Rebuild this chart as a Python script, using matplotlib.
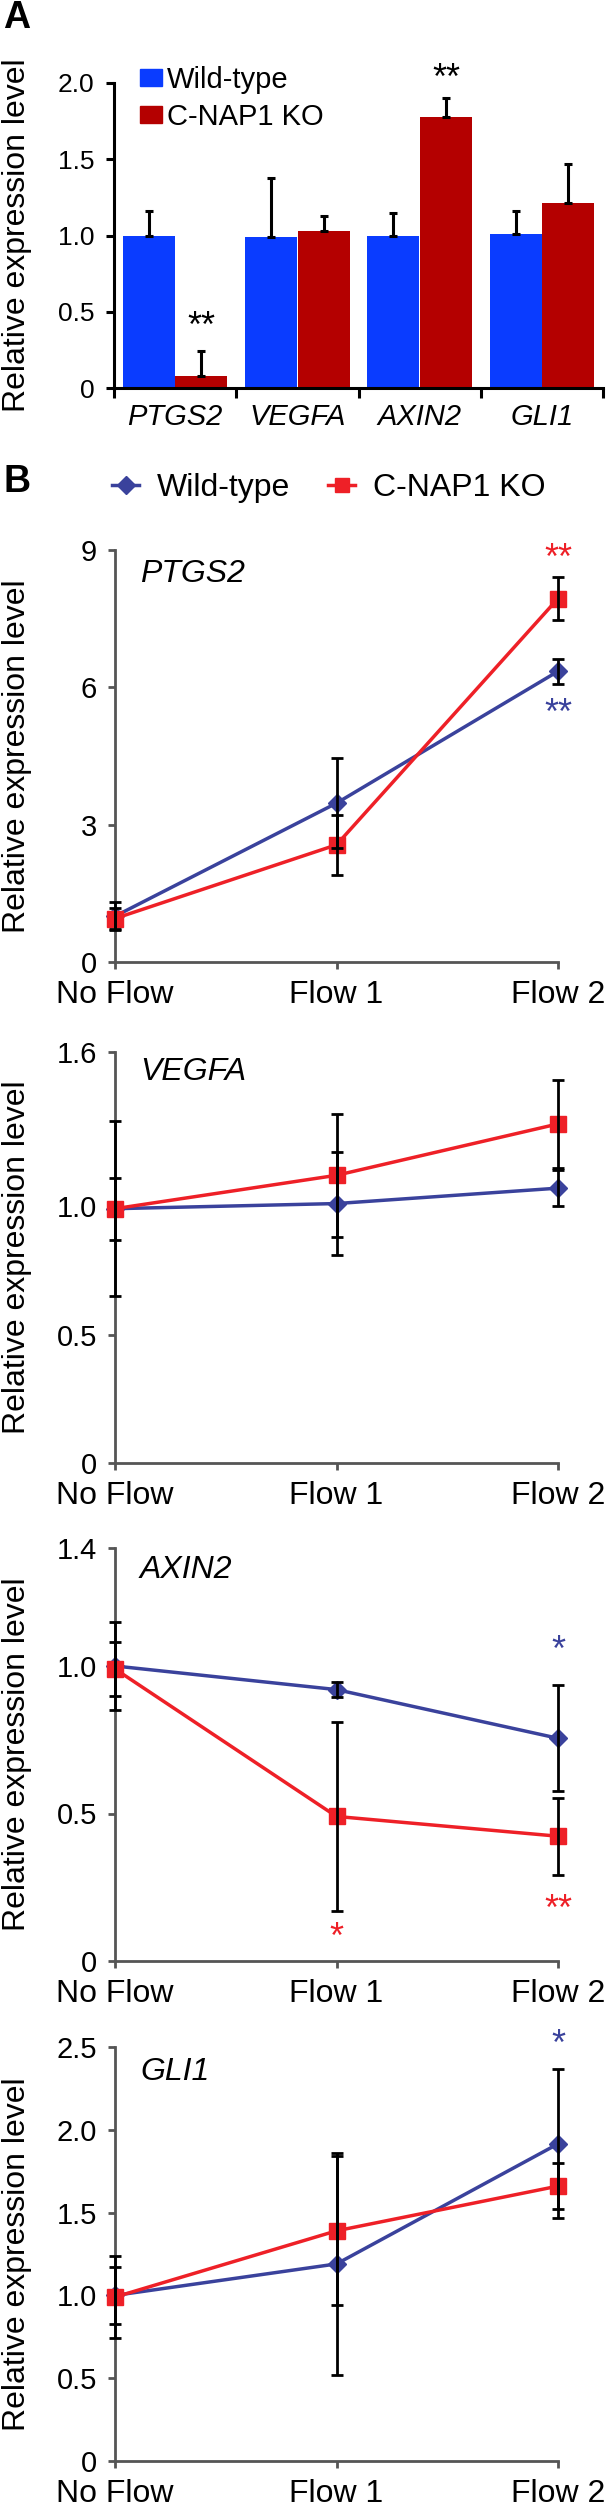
import matplotlib
matplotlib.use("Agg")
import matplotlib.pyplot as plt
from matplotlib.lines import Line2D
from matplotlib.patches import Patch
import matplotlib.transforms as mtransforms

plt.rcParams['font.family'] = ['Liberation Sans', 'DejaVu Sans']

W, H = 615, 2506
DPI = 100

# ---------------- data ----------------
genes = ["PTGS2", "VEGFA", "AXIN2", "GLI1"]
wt_bar = [1.00, 0.99, 1.00, 1.01]
wt_bar_err = [0.16, 0.39, 0.15, 0.15]
ko_bar = [0.08, 1.03, 1.78, 1.21]
ko_bar_err = [0.16, 0.10, 0.12, 0.26]

conditions = ["No Flow", "Flow 1", "Flow 2"]

ptgs2_wt = [1.00, 3.47, 6.35]
ptgs2_wt_err = [0.30, 0.98, 0.27]
ptgs2_ko = [0.95, 2.56, 7.94]
ptgs2_ko_err = [0.22, 0.65, 0.46]

vegfa_wt = [0.99, 1.01, 1.07]
vegfa_wt_err = [0.34, 0.20, 0.07]
vegfa_ko = [0.99, 1.12, 1.32]
vegfa_ko_err = [0.12, 0.24, 0.17]

axin2_wt = [1.00, 0.92, 0.755]
axin2_wt_err = [0.15, 0.025, 0.18]
axin2_ko = [0.99, 0.49, 0.423]
axin2_ko_err = [0.09, 0.32, 0.13]

gli1_wt = [1.00, 1.19, 1.915]
gli1_wt_err = [0.17, 0.67, 0.45]
gli1_ko = [0.99, 1.39, 1.66]
gli1_ko_err = [0.25, 0.45, 0.14]

BLUE_BAR = '#0a3cff'
RED_BAR = '#b40000'
WT_C = '#3a429c'
KO_C = '#ee2027'
AX_GRAY = '#555555'

fig = plt.figure(figsize=(W / DPI, H / DPI), dpi=DPI)


def rect(x0, x1, ytop, ybot):
    return [x0 / W, 1 - ybot / H, (x1 - x0) / W, (ybot - ytop) / H]


def px(x, y):
    return x / W, 1 - y / H


# ---------------- Panel A ----------------
axA = fig.add_axes(rect(114, 603, 83, 388))
idx = list(range(len(genes)))
bw = 0.425
off = 0.215
axA.bar([i - off for i in idx], wt_bar, width=bw, color=BLUE_BAR, zorder=2)
axA.bar([i + off for i in idx], ko_bar, width=bw, color=RED_BAR, zorder=2)
axA.errorbar([i - off for i in idx], wt_bar, yerr=[[0] * 4, wt_bar_err], fmt='none',
             ecolor='black', elinewidth=2.2, capsize=3, capthick=2.2, zorder=3)
axA.errorbar([i + off for i in idx], ko_bar, yerr=[[0] * 4, ko_bar_err], fmt='none',
             ecolor='black', elinewidth=2.2, capsize=3, capthick=2.2, zorder=3)
axA.set_xlim(-0.5, 3.5)
axA.set_ylim(0, 2.0)
axA.set_yticks([0, 0.5, 1.0, 1.5, 2.0])
axA.set_yticklabels(["0", "0.5", "1.0", "1.5", "2.0"], fontsize=19)
axA.set_xticks(idx)
axA.set_xticklabels(genes, fontsize=21, style='italic')
axA.set_xticks([-0.5, 0.5, 1.5, 2.5, 3.5], minor=True)
axA.tick_params(axis='x', which='major', length=0, pad=11)
axA.tick_params(axis='x', which='minor', length=7, width=2.2, direction='out')
axA.tick_params(axis='y', length=6, width=2.2, direction='out', pad=8)
for s in ['top', 'right']:
    axA.spines[s].set_visible(False)
for s in ['left', 'bottom']:
    axA.spines[s].set_linewidth(2.2)
    axA.spines[s].set_color('black')
axA.text(0 + off, 0.40, "**", ha='center', va='center', fontsize=26)
axA.text(2 + off, 2.02, "**", ha='center', va='center', fontsize=26, clip_on=False)

fig.text(*px(17, 235), "Relative expression level", rotation=90, ha='center', va='center', fontsize=23)
fig.text(*px(3, 18), "A", ha='left', va='center', fontsize=27, fontweight='bold')

legA = fig.legend(handles=[Patch(color=BLUE_BAR, label='Wild-type'),
                           Patch(color=RED_BAR, label='C-NAP1 KO')],
                  loc='upper left', bbox_to_anchor=px(140, 66), frameon=False,
                  fontsize=21, handlelength=0.76, handleheight=0.55, handletextpad=0.15,
                  labelspacing=0.3, borderpad=0, borderaxespad=0)

# ---------------- Panel B ----------------
fig.text(*px(4, 482), "B", ha='left', va='center', fontsize=27, fontweight='bold')
legB = fig.legend(handles=[Line2D([], [], color=WT_C, lw=2.5, marker='D', markersize=9, label='Wild-type'),
                           Line2D([], [], color=KO_C, lw=2.5, marker='s', markersize=10, label='C-NAP1 KO')],
                  loc='center left', bbox_to_anchor=px(112, 488), frameon=False, ncol=2,
                  fontsize=23, handlelength=0.85, handletextpad=0.55, columnspacing=1.2,
                  borderpad=0, borderaxespad=0)

panels = [
    dict(name="PTGS2", wt=ptgs2_wt, wte=ptgs2_wt_err, ko=ptgs2_ko, koe=ptgs2_ko_err,
         top=550, bot=962, ylim=9, ticks=[0, 3, 6, 9], labels=["0", "3", "6", "9"],
         gene_y=574,
         stars=[(2, 8.8, "**", KO_C), (2, 5.4, "**", WT_C)]),
    dict(name="VEGFA", wt=vegfa_wt, wte=vegfa_wt_err, ko=vegfa_ko, koe=vegfa_ko_err,
         top=1052, bot=1463, ylim=1.6, ticks=[0, 0.5, 1.0, 1.6], labels=["0", "0.5", "1.0", "1.6"],
         gene_y=1072, stars=[]),
    dict(name="AXIN2", wt=axin2_wt, wte=axin2_wt_err, ko=axin2_ko, koe=axin2_ko_err,
         top=1548, bot=1961, ylim=1.4, ticks=[0, 0.5, 1.0, 1.4], labels=["0", "0.5", "1.0", "1.4"],
         gene_y=1570,
         stars=[(2, 1.05, "*", WT_C), (1, 0.078, "*", KO_C), (2, 0.17, "**", KO_C)]),
    dict(name="GLI1", wt=gli1_wt, wte=gli1_wt_err, ko=gli1_ko, koe=gli1_ko_err,
         top=2047, bot=2461, ylim=2.5, ticks=[0, 0.5, 1.0, 1.5, 2.0, 2.5],
         labels=["0", "0.5", "1.0", "1.5", "2.0", "2.5"],
         gene_y=2072, stars=[(2, 2.51, "*", WT_C)]),
]

xpos = list(range(len(conditions)))
for p in panels:
    ax = fig.add_axes(rect(115, 558, p['top'], p['bot']))
    ax.plot(xpos, p['wt'], color=WT_C, lw=2.5, marker='D', markersize=9, zorder=3, clip_on=False)
    ax.plot(xpos, p['ko'], color=KO_C, lw=2.5, marker='s', markersize=12, zorder=3, clip_on=False)
    for vals, errs in ((p['wt'], p['wte']), (p['ko'], p['koe'])):
        ax.errorbar(xpos, vals, yerr=errs, fmt='none', ecolor='black', elinewidth=2.0,
                    capsize=4, capthick=2.0, zorder=4, clip_on=False)
    ax.set_xlim(0, 2)
    ax.set_ylim(0, p['ylim'])
    ax.set_yticks(p['ticks'])
    ax.set_yticklabels(p['labels'], fontsize=21)
    ax.set_xticks(xpos)
    ax.set_xticklabels(conditions, fontsize=23)
    for lab, dx in zip(ax.get_xticklabels(), [14, 5, 5]):
        lab.set_transform(lab.get_transform() + mtransforms.ScaledTranslation(dx / DPI, 0, fig.dpi_scale_trans))
    ax.tick_params(axis='x', length=5, width=2.0, direction='out', pad=8, colors=AX_GRAY, labelcolor='black')
    ax.tick_params(axis='y', length=5, width=2.0, direction='out', pad=8, colors=AX_GRAY, labelcolor='black')
    for s in ['top', 'right']:
        ax.spines[s].set_visible(False)
    for s in ['left', 'bottom']:
        ax.spines[s].set_linewidth(2.0)
        ax.spines[s].set_color(AX_GRAY)
    fig.text(*px(140, p['gene_y']), p['name'], ha='left', va='center', fontsize=23, style='italic')
    for (sx, sy, st, sc) in p['stars']:
        ax.text(sx, sy, st, color=sc, ha='center', va='center', fontsize=26, clip_on=False)
    fig.text(*px(17, (p['top'] + p['bot']) / 2), "Relative expression level", rotation=90,
             ha='center', va='center', fontsize=23)

fig.savefig("out.png", dpi=DPI)
